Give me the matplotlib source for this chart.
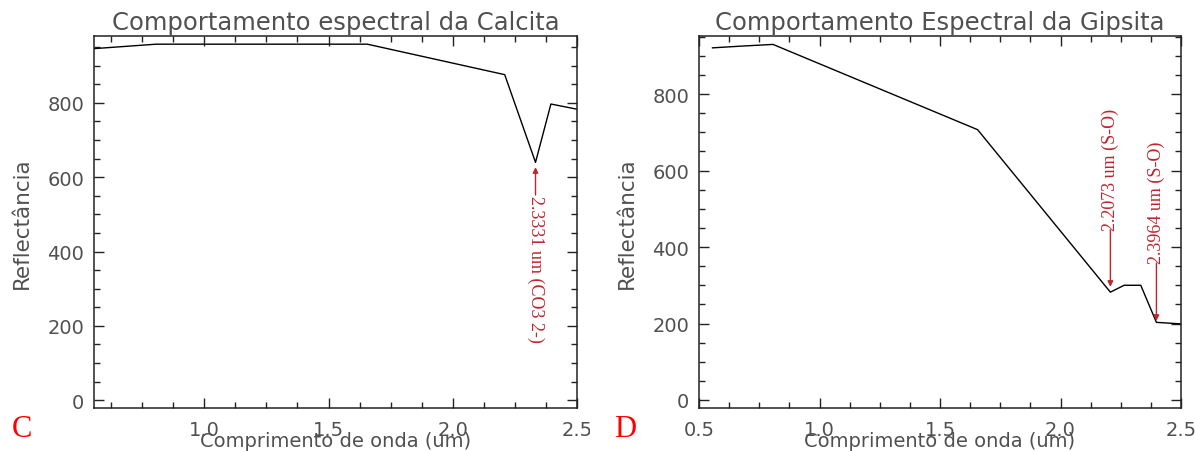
import matplotlib
matplotlib.use("Agg")
import matplotlib.pyplot as plt
from matplotlib.ticker import MultipleLocator
from matplotlib.transforms import Bbox

# spectra (wavelength in um, reflectance)
calcita_wl = [0.556, 0.807, 1.656, 2.209, 2.333, 2.395, 2.5]
calcita_refl = [946, 958, 958, 876, 640, 797, 783]

gipsita_wl = [0.556, 0.661, 0.807, 1.656, 2.207, 2.264, 2.333, 2.398, 2.5]
gipsita_refl = [921, 925, 930, 707, 282, 300, 300, 203, 199]

# absorption features: (wavelength, arrow tip, arrow tail, label)
calcita_feats = [(2.333, 627, 552, "2.3331 um (CO3 2-)")]
gipsita_feats = [(2.207, 296, 445, "2.2073 um (S-O)"),
                 (2.398, 207, 358, "2.3964 um (S-O)")]

txt_color = "#505050"
red = "#c0242c"

fig = plt.figure(figsize=(11.95, 4.52), dpi=100)
ax1 = fig.add_axes([94 / 1195, 1 - 409 / 452, 483 / 1195, 372 / 452])
ax2 = fig.add_axes([699 / 1195, 1 - 409 / 452, 482 / 1195, 372 / 452])


def style_axes(ax, title, xlim, ylim):
    ax.set_xlim(*xlim)
    ax.set_ylim(*ylim)
    ax.set_title(title, fontsize=17.5, color=txt_color, pad=5)
    ax.set_xlabel("Comprimento de onda (um)", fontsize=14, color=txt_color, labelpad=-6)
    ax.set_ylabel("Reflectância", fontsize=15.5, color=txt_color, labelpad=11)
    ax.xaxis.set_major_locator(MultipleLocator(0.5))
    ax.xaxis.set_minor_locator(MultipleLocator(0.125))
    ax.yaxis.set_major_locator(MultipleLocator(200))
    ax.yaxis.set_minor_locator(MultipleLocator(50))
    ax.xaxis.set_major_formatter(lambda v, p: f"{v:.1f}")
    ax.tick_params(which="both", direction="in", top=True, right=True,
                   colors="#222222", labelcolor=txt_color, labelsize=14, width=1.0)
    ax.tick_params(which="major", length=7)
    ax.tick_params(axis="x", which="major", pad=9)
    ax.tick_params(axis="y", which="major", pad=7)
    ax.tick_params(which="minor", length=4)
    for s in ax.spines.values():
        s.set_linewidth(1.1)
        s.set_color("#222222")


style_axes(ax1, "Comportamento espectral da Calcita", (0.556, 2.5), (-21, 980))
style_axes(ax2, "Comportamento Espectral da Gipsita", (0.5, 2.5), (-21, 952))

ax1.plot(calcita_wl, calcita_refl, color="black", lw=1.0)
ax2.plot(gipsita_wl, gipsita_refl, color="black", lw=1.0)

arrow = dict(arrowstyle="-|>", color=red, lw=1.0, mutation_scale=8, shrinkA=0, shrinkB=0)

for wl, tip, tail, label in calcita_feats:
    ax1.annotate("", xy=(wl, tip), xytext=(wl, tail), arrowprops=arrow)
    ax1.text(wl, tail, label, rotation=270, ha="center", va="top", color=red,
             fontsize=13, family="Liberation Serif")

for wl, tip, tail, label in gipsita_feats:
    ax2.annotate("", xy=(wl, tip), xytext=(wl, tail), arrowprops=arrow)
    ax2.text(wl, tail, label, rotation=90, ha="center", va="bottom", color=red,
             fontsize=13, family="Liberation Serif")

fig.text(22 / 1195, 1 - 430 / 452, "C", color="red", fontsize=22,
         family="Liberation Serif", ha="center", va="center")
fig.text(625 / 1195, 1 - 430 / 452, "D", color="red", fontsize=22,
         family="Liberation Serif", ha="center", va="center")

# the left panel was cropped just right of its last tick label
clip = Bbox.from_extents(0, 0, 590, 452)
for lab in ax1.get_xticklabels():
    lab.set_clip_box(clip)
    lab.set_clip_on(True)

fig.savefig("out.png", dpi=100)
